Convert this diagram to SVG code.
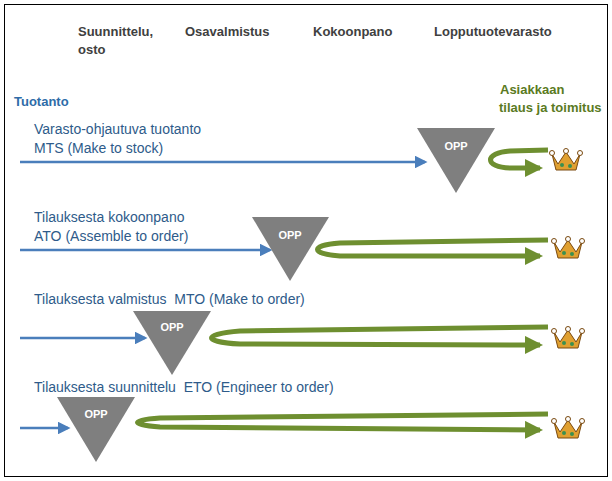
<svg xmlns="http://www.w3.org/2000/svg" width="612" height="481" viewBox="0 0 612 481">
<style>
.h{font-family:"Liberation Sans",Arial,sans-serif;font-weight:bold;font-size:13px;fill:#404040}
.l{font-family:"Liberation Sans",Arial,sans-serif;font-size:14px;fill:#2e5b8a;white-space:pre}
.o{font-family:"Liberation Sans",Arial,sans-serif;font-weight:bold;font-size:11px;fill:#fff}
.tri{fill:#7f7f7f}
.bl{stroke:#4a7ebb;stroke-width:2.5;fill:none;marker-end:url(#ab)}
.gr{stroke:#6e8f30;stroke-width:5;fill:none;marker-end:url(#ag)}
.cr{fill:#e0a030;stroke:#7a4a10;stroke-width:1}
</style>
<defs>
<marker id="ab" markerWidth="5" markerHeight="5" refX="4" refY="2.5" orient="auto"><path d="M0,0L5,2.5L0,5z" fill="#4a7ebb"/></marker>
<marker id="ag" markerWidth="3.6" markerHeight="3.6" refX="3" refY="1.8" orient="auto"><path d="M0,0L3.6,1.8L0,3.6z" fill="#6e8f30"/></marker>
<g id="crown"><path class="cr" d="M-14,-6L-8,4L0,-8L8,4L14,-6L10,10L-10,10z"/><circle cx="-14" cy="-7" r="2.5" fill="#fff" stroke="#7a4a10"/><circle cx="0" cy="-9" r="2.5" fill="#fff" stroke="#7a4a10"/><circle cx="14" cy="-7" r="2.5" fill="#fff" stroke="#7a4a10"/><circle cx="-4" cy="5" r="2" fill="#3a8f50"/><circle cx="4" cy="6" r="2" fill="#3a8f50"/></g>
</defs>
<rect x="4.5" y="4.5" width="603" height="472" fill="#fff" stroke="#000"/>
<text class="h" x="78" y="36">Suunnittelu,</text><text class="h" x="78" y="54">osto</text>
<text class="h" x="185" y="36">Osavalmistus</text>
<text class="h" x="313" y="36">Kokoonpano</text>
<text class="h" x="434" y="36">Lopputuotevarasto</text>
<text class="h" x="14" y="106" style="fill:#2e6ca8">Tuotanto</text>
<text class="h" x="500" y="94" style="fill:#5a7a22">Asiakkaan</text>
<text class="h" x="499" y="112" style="fill:#5a7a22">tilaus ja toimitus</text>
<g id="connectors">
<line class="bl" x1="20" y1="162" x2="425" y2="162"/>
<line class="bl" x1="20" y1="250" x2="270" y2="250"/>
<line class="bl" x1="20" y1="338" x2="145" y2="338"/>
<line class="bl" x1="20" y1="428" x2="68" y2="428"/>
<path class="gr" d="M548,150L510,151C484,153 484,167 510,168L540,168"/>
<path class="gr" d="M548,240L340,243C310,245 310,254 340,256L540,256"/>
<path class="gr" d="M548,327L240,331C202,334 202,342 240,344L540,345"/>
<path class="gr" d="M548,414L160,418C130,420 130,425 160,427L540,430"/>
</g>
<g id="mts"><text class="l" x="34" y="134">Varasto-ohjautuva tuotanto</text><text class="l" x="34" y="153">MTS (Make to stock)</text><path class="tri" d="M417,128L495,128L456,193z"/><text class="o" x="456" y="150" text-anchor="middle">OPP</text><use href="#crown" x="566" y="160"/></g>
<g id="ato"><text class="l" x="34" y="222">Tilauksesta kokoonpano</text><text class="l" x="34" y="241">ATO (Assemble to order)</text><path class="tri" d="M252,217L329,217L290,281z"/><text class="o" x="290" y="239" text-anchor="middle">OPP</text><use href="#crown" x="568" y="248"/></g>
<g id="mto"><text class="l" x="34" y="304">Tilauksesta valmistus  MTO (Make to order)</text><path class="tri" d="M133,311L211,311L172,375z"/><text class="o" x="172" y="331" text-anchor="middle">OPP</text><use href="#crown" x="568" y="338"/></g>
<g id="eto"><text class="l" x="34" y="392">Tilauksesta suunnittelu  ETO (Engineer to order)</text><path class="tri" d="M57,397L135,397L96,462z"/><text class="o" x="96" y="418" text-anchor="middle">OPP</text><use href="#crown" x="568" y="428"/></g>
</svg>
